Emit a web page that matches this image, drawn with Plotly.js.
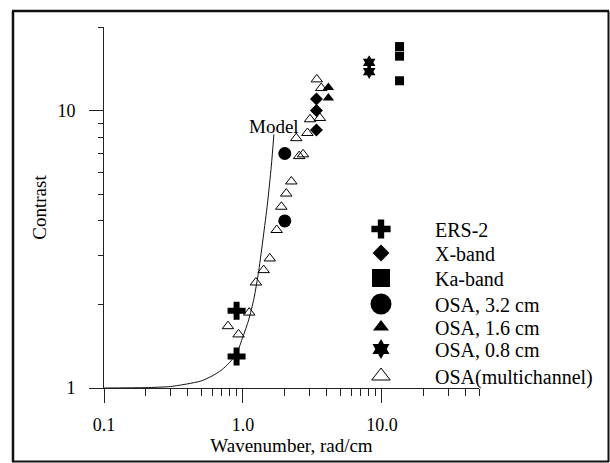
<!DOCTYPE html>
<html>
<head>
<meta charset="utf-8">
<script src="https://cdn.plot.ly/plotly-3.0.1.min.js"></script>
<style>
  html, body { margin: 0; padding: 0; background: #fff; }
  #chart { width: 610px; height: 463px; }
</style>
</head>
<body>
<div id="chart"></div>
<script>
// ---- data ----
const modelX = [0.1, 0.2, 0.3, 0.4, 0.5, 0.6, 0.7, 0.8, 0.9, 1.0, 1.1, 1.2, 1.3, 1.4, 1.5, 1.6, 1.67];
const modelY = [1.0, 1.003, 1.012, 1.035, 1.06, 1.105, 1.16, 1.235, 1.33, 1.53, 1.76, 2.1, 2.65, 3.5, 4.6, 6.3, 8.2];

const ers2X = [0.9, 0.9];
const ers2Y = [1.9, 1.3];

const xbandX = [3.38, 3.38, 3.38];
const xbandY = [11.0, 10.0, 8.5];

const kabandX = [13.4, 13.4, 13.4];
const kabandY = [17.0, 15.7, 12.8];

const osa32X = [2.0, 2.0];
const osa32Y = [7.0, 4.0];

const osa16X = [4.12, 4.12];
const osa16Y = [12.1, 11.1];

const osa08X = [8.1, 8.1];
const osa08Y = [14.9, 13.8];

const multiX = [0.78, 0.93, 1.11, 1.24, 1.41, 1.56, 1.75, 1.89, 2.05, 2.23, 2.54, 2.71, 2.42, 2.91, 3.04, 3.58, 3.40, 3.66];
const multiY = [1.67, 1.56, 1.87, 2.40, 2.66, 2.93, 3.71, 4.50, 5.02, 5.55, 6.85, 6.95, 7.95, 8.30, 9.30, 9.40, 12.95, 12.05];

const seriesNames = ['ERS-2', 'X-band', 'Ka-band', 'OSA, 3.2 cm', 'OSA, 1.6 cm', 'OSA, 0.8 cm', 'OSA(multichannel)'];

const xTickVals = [0.1, 1, 10];
const xTickText = ['0.1', '1.0', '10.0'];
const xMinorVals = [0.2, 0.3, 0.4, 0.5, 0.6, 0.7, 0.8, 0.9, 2, 3, 4, 5, 6, 7, 8, 9, 20, 30, 40, 50];
const yTickVals = [1, 10];
const yTickText = ['1', '10'];
const yMinorVals = [2, 3, 4, 5, 6, 7, 8, 9, 20];

// ---- chart ----
const FONT = 'Liberation Serif, Times New Roman, Times, serif';
const BLACK = '#000';

// marker styles: [plot marker, legend marker]
const styles = [
  [{ symbol: 'cross', size: 15, color: BLACK }, { symbol: 'cross', size: 16, color: BLACK }],
  [{ symbol: 'diamond', size: 10, color: BLACK }, { symbol: 'diamond', size: 13, color: BLACK }],
  [{ symbol: 'square', size: 9, color: BLACK }, { symbol: 'square', size: 16, color: BLACK, line: { width: 2, color: BLACK } }],
  [{ symbol: 'circle', size: 13, color: BLACK }, { symbol: 'circle', size: 16, color: BLACK, line: { width: 5, color: BLACK } }],
  [{ symbol: 'triangle-up', size: 10, color: BLACK }, { symbol: 'triangle-up', size: 14, color: BLACK }],
  [{ symbol: 'hexagram', size: 11, color: BLACK }, { symbol: 'hexagram', size: 15, color: BLACK }],
  [{ symbol: 'triangle-up-open', size: 10, color: BLACK, line: { width: 1, color: BLACK } },
   { symbol: 'triangle-up-open', size: 16, color: BLACK, line: { width: 1, color: BLACK } }]
];
const seriesX = [ers2X, xbandX, kabandX, osa32X, osa16X, osa08X, multiX];
const seriesY = [ers2Y, xbandY, kabandY, osa32Y, osa16Y, osa08Y, multiY];

const traces = [
  { type: 'scatter', mode: 'lines', x: modelX, y: modelY, showlegend: false,
    line: { color: '#111', width: 1, shape: 'spline', smoothing: 0.6 }, hoverinfo: 'skip' }
];
seriesNames.forEach(function (name, i) {
  traces.push({ type: 'scatter', mode: 'markers', name: name, x: seriesX[i], y: seriesY[i],
                marker: styles[i][0], showlegend: false, cliponaxis: false, hoverinfo: 'skip' });
});
// legend entries (no points of their own), one small legend per row
seriesNames.forEach(function (name, i) {
  traces.push({ type: 'scatter', mode: 'markers', name: name, x: [null], y: [null],
                marker: styles[i][1], showlegend: true,
                legend: i === 0 ? 'legend' : 'legend' + (i + 1), hoverinfo: 'skip' });
});

const L = 104, R = 479, T = 27, B = 388;
const pw = R - L, ph = B - T;
function px(xp) { return (xp - L) / pw; }
function py(yp) { return (B - yp) / ph; }

const rowCenters = [229, 253, 278, 304, 327, 349, 376];

const layout = {
  width: 610, height: 463,
  margin: { l: L, r: 610 - R, t: T, b: 463 - B, pad: 0 },
  paper_bgcolor: '#fff', plot_bgcolor: '#fff',
  font: { family: FONT, size: 19, color: BLACK },
  showlegend: true,
  xaxis: {
    type: 'log', range: [-1, Math.log10(50)],
    showgrid: false, zeroline: false,
    showline: true, linecolor: '#222', linewidth: 1, mirror: false,
    ticks: 'outside', ticklen: 14, tickwidth: 1, tickcolor: '#222',
    tickmode: 'array', tickvals: xTickVals, ticktext: xTickText,
    tickfont: { family: FONT, size: 18, color: BLACK },
    ticklabelstandoff: 6,
    minor: { tickmode: 'array', tickvals: xMinorVals, ticks: 'outside', ticklen: 7, tickwidth: 1, tickcolor: '#222', showgrid: false },
    title: { text: 'Wavenumber, rad/cm', font: { family: FONT, size: 19, color: BLACK }, standoff: 4 },
    automargin: false
  },
  yaxis: {
    type: 'log', range: [0, Math.log10(20)],
    showgrid: false, zeroline: false,
    showline: true, linecolor: '#222', linewidth: 1,
    ticks: 'outside', ticklen: 14, tickwidth: 1, tickcolor: '#222',
    tickmode: 'array', tickvals: yTickVals, ticktext: yTickText,
    tickfont: { family: FONT, size: 18, color: BLACK },
    ticklabelstandoff: 10,
    minor: { tickmode: 'array', tickvals: yMinorVals, ticks: 'outside', ticklen: 5, tickwidth: 1, tickcolor: '#222', showgrid: false },
    title: { text: 'Contrast', font: { family: FONT, size: 19, color: BLACK }, standoff: 5 },
    automargin: false
  },
  annotations: [{
    text: 'Model', x: Math.log10(1.67), y: Math.log10(8.75), xref: 'x', yref: 'y',
    showarrow: false, xanchor: 'center', yanchor: 'middle',
    font: { family: FONT, size: 19, color: BLACK }
  }],
  shapes: [
    { type: 'line', xref: 'paper', yref: 'paper', x0: px(13), x1: px(13), y0: py(11), y1: py(462), line: { color: '#111', width: 2.5 } },
    { type: 'line', xref: 'paper', yref: 'paper', x0: px(12), x1: px(609), y0: py(11), y1: py(11), line: { color: '#111', width: 2.5 } },
    { type: 'line', xref: 'paper', yref: 'paper', x0: px(608.5), x1: px(608.5), y0: py(11), y1: py(462), line: { color: '#111', width: 2 } },
    { type: 'line', xref: 'paper', yref: 'paper', x0: px(12), x1: px(609), y0: py(461.5), y1: py(461.5), line: { color: '#111', width: 2 } }
  ]
};

rowCenters.forEach(function (yc, i) {
  const key = i === 0 ? 'legend' : 'legend' + (i + 1);
  layout[key] = {
    x: px(327), y: py(yc), xanchor: 'left', yanchor: 'middle',
    bgcolor: 'rgba(0,0,0,0)', borderwidth: 0,
    font: { family: FONT, size: 20, color: BLACK },
    itemwidth: 98, itemsizing: 'trace'
  };
});

Plotly.newPlot('chart', traces, layout, { staticPlot: true, displayModeBar: false });
</script>
</body>
</html>
